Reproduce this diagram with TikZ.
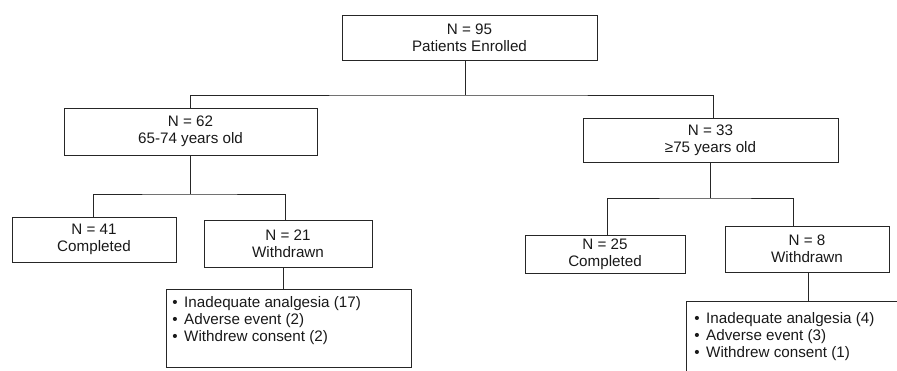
\documentclass[tikz,border=0pt]{standalone}
\usepackage{fontspec}
\setmainfont{Liberation Sans}
\begin{document}
\begin{tikzpicture}[x=0.75pt,y=-0.75pt,
  font=\fontsize{11.4}{12.8}\selectfont,
  box/.style={draw=black!85, line width=0.6pt, align=center, inner sep=0pt, text=black!90},
  conn/.style={draw=black!85, line width=0.6pt},
  reasons/.style={anchor=north west, align=left, inner sep=0pt, text=black!90}]
\useasboundingbox (0,0) rectangle (897,371);
\clip (0,0) rectangle (897,371);
% boxes
\node[box, minimum width=191.25pt, minimum height=33.75pt] (top) at (469.5,37.5) {N = 95\\Patients Enrolled};
\node[box, minimum width=189.75pt, minimum height=35.25pt] (L) at (190.5,131.5) {N = 62\\65-74 years old};
\node[box, minimum width=191.25pt, minimum height=33pt] (R) at (710.5,140) {N = 33\\≥75 years old};
\node[box, minimum width=123pt, minimum height=33.75pt] (LC) at (94,239.5) {N = 41\\Completed};
\node[box, minimum width=126pt, minimum height=35.25pt] (LW) at (288,243.5) {N = 21\\Withdrawn};
\node[box, minimum width=120pt, minimum height=28.5pt] (RC) at (605,254) {N = 25\\Completed};
\node[box, minimum width=123pt, minimum height=34.5pt] (RW) at (807,249) {N = 8\\Withdrawn};
\node[box, minimum width=183.75pt, minimum height=58.5pt] (LR) at (288.5,328) {};
\node[box, minimum width=183pt, minimum height=74.25pt] (RR) at (808,350.5) {};
\node[reasons] (LRt) at (172,296) {•\hspace{5pt}Inadequate analgesia (17)\\•\hspace{5pt}Adverse event (2)\\•\hspace{5pt}Withdrew consent (2)};
\node[reasons] (RRt) at (694,312) {•\hspace{5pt}Inadequate analgesia (4)\\•\hspace{5pt}Adverse event (3)\\•\hspace{5pt}Withdrew consent (1)};
% junction coordinates
\coordinate (j1) at (465,95);
\coordinate (rx) at (713,0);
\coordinate (j2) at (190,194);
\coordinate (lcx) at (93,0);
\coordinate (lwx) at (285,0);
\coordinate (j3) at (710,198);
\coordinate (rcx) at (607,0);
\coordinate (rwx) at (793,0);
\coordinate (lrx) at (283,0);
\coordinate (rrx) at (808,0);
% connectors
\draw[conn] (top.south -| j1) -- (j1);
\draw[conn] (L.north) |- (j1) -| (R.north -| rx);
\draw[conn] (L.south -| j2) -- (j2);
\draw[conn] (LC.north -| lcx) |- (j2) -| (LW.north -| lwx);
\draw[conn] (R.south -| j3) -- (j3);
\draw[conn] (RC.north -| rcx) |- (j3) -| (RW.north -| rwx);
\draw[conn] (LW.south -| lrx) -- (LR.north -| lrx);
\draw[conn] (RW.south -| rrx) -- (RR.north -| rrx);
\end{tikzpicture}
\end{document}
